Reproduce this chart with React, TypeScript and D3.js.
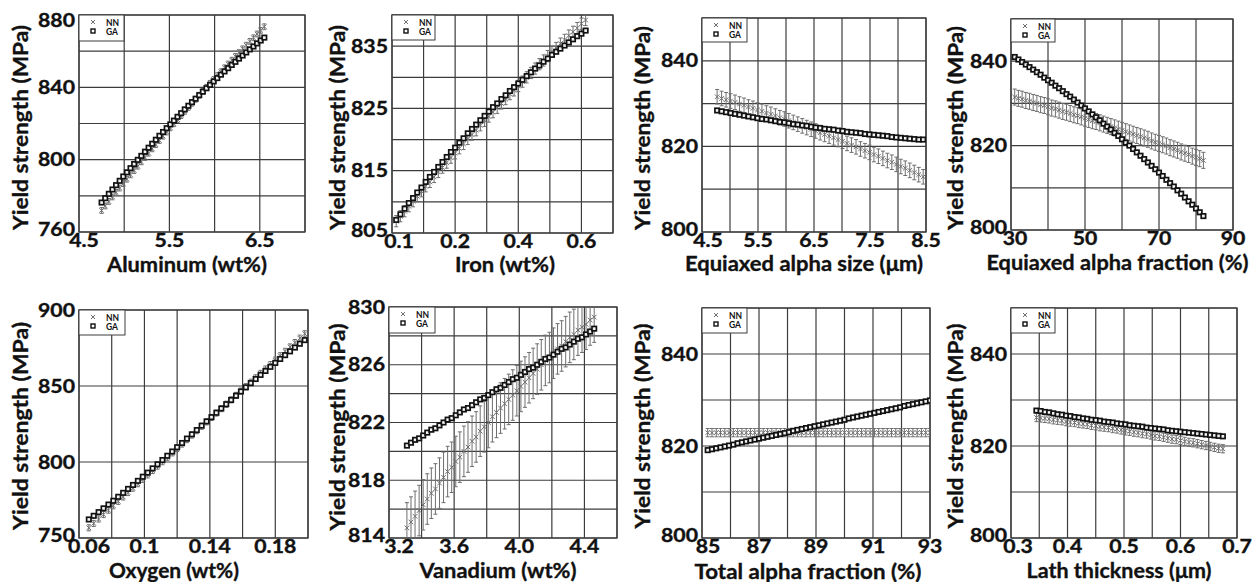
import React from "react";
import * as d3 from "d3";

// ---------- Data ----------
// 1 Aluminum
const alX = [4.75,4.79,4.83,4.87,4.91,4.95,4.99,5.03,5.07,5.11,5.15,5.19,5.23,5.27,5.31,5.35,5.39,5.43,5.47,5.51,5.55,5.59,5.63,5.67,5.71,5.75,5.79,5.83,5.87,5.91,5.95,5.99,6.03,6.07,6.11,6.15,6.19,6.23,6.27,6.31,6.35,6.39,6.43,6.47,6.51,6.55];
const alNN = [771.9,774.4,776.9,779.4,781.9,784.3,786.8,789.2,791.6,794.0,796.4,798.8,801.2,803.6,806.0,808.3,810.6,813.0,815.3,817.6,819.9,822.1,824.4,826.7,828.9,831.2,833.4,835.6,837.8,840.0,842.2,844.3,846.5,848.6,850.8,852.9,855.0,857.1,859.2,861.3,863.3,865.4,867.4,869.5,871.5,873.5];
const alGA = [776.3,778.7,781.1,783.5,785.9,788.3,790.7,793.0,795.3,797.6,799.9,802.1,804.4,806.6,808.8,811.0,813.2,815.3,817.4,819.5,821.6,823.7,825.7,827.8,829.8,831.8,833.7,835.7,837.6,839.5,841.4,843.3,845.1,847.0,848.8,850.6,852.4,854.1,855.9,857.6,859.3,861.0,862.6,864.3,865.9,867.5];

// 2 Iron
const feX = [0.11,0.12,0.13,0.14,0.15,0.16,0.17,0.18,0.19,0.20,0.21,0.22,0.23,0.24,0.25,0.26,0.27,0.28,0.29,0.30,0.31,0.32,0.33,0.34,0.35,0.36,0.37,0.38,0.39,0.40,0.41,0.42,0.43,0.44,0.45,0.46,0.47,0.48,0.49,0.50,0.51,0.52,0.53,0.54,0.55,0.56];
const feNN = [806.9,807.7,808.5,809.3,810.1,810.9,811.7,812.5,813.2,814.0,814.8,815.5,816.3,817.1,817.8,818.6,819.3,820.1,820.8,821.5,822.3,823.0,823.7,824.4,825.1,825.8,826.5,827.3,827.9,828.6,829.3,830.0,830.7,831.4,832.1,832.7,833.4,834.1,834.7,835.4,836.0,836.7,837.3,837.9,838.6,839.2];
const feGA = [807.1,808.0,808.9,809.8,810.6,811.5,812.3,813.2,814.0,814.8,815.6,816.4,817.2,818.0,818.7,819.5,820.2,821.0,821.7,822.4,823.1,823.8,824.5,825.2,825.8,826.5,827.1,827.8,828.4,829.0,829.6,830.2,830.8,831.4,831.9,832.5,833.0,833.6,834.1,834.6,835.1,835.6,836.1,836.6,837.0,837.5];

// 3 Equiaxed alpha size
const esX = [4.77,4.85,4.93,5.01,5.09,5.17,5.25,5.33,5.41,5.49,5.57,5.65,5.73,5.81,5.89,5.97,6.05,6.13,6.21,6.29,6.37,6.45,6.53,6.61,6.69,6.77,6.85,6.93,7.01,7.09,7.17,7.25,7.33,7.41,7.49,7.57,7.65,7.73,7.81,7.89,7.97,8.05,8.13,8.21,8.29,8.37,8.45];
const esNN = [831.6,831.2,830.9,830.6,830.3,829.9,829.6,829.2,828.9,828.5,828.2,827.8,827.5,827.1,826.7,826.4,826.0,825.6,825.2,824.8,824.4,824.0,823.6,823.2,822.8,822.4,822.0,821.6,821.2,820.7,820.3,819.9,819.4,819.0,818.6,818.1,817.7,817.2,816.7,816.3,815.8,815.3,814.9,814.4,813.9,813.4,812.9];
const esGA = [828.4,828.2,828.0,827.8,827.6,827.4,827.2,827.0,826.8,826.6,826.4,826.3,826.1,825.9,825.7,825.6,825.4,825.2,825.1,824.9,824.8,824.6,824.4,824.3,824.1,824.0,823.9,823.7,823.6,823.4,823.3,823.2,823.1,822.9,822.8,822.7,822.6,822.5,822.4,822.2,822.1,822.0,821.9,821.8,821.7,821.6,821.6];

// 4 Equiaxed alpha fraction
const efX = [31,32,33,34,35,36,37,38,39,40,41,42,43,44,45,46,47,48,49,50,51,52,53,54,55,56,57,58,59,60,61,62,63,64,65,66,67,68,69,70,71,72,73,74,75,76,77,78,79,80,81,82];
const efNN = [831.5,831.2,831.0,830.7,830.5,830.2,830.0,829.7,829.5,829.2,828.9,828.7,828.4,828.1,827.9,827.6,827.3,827.1,826.8,826.5,826.2,825.9,825.7,825.4,825.1,824.8,824.5,824.2,823.9,823.6,823.3,823.0,822.7,822.4,822.1,821.8,821.5,821.1,820.8,820.5,820.2,819.9,819.5,819.2,818.9,818.5,818.2,817.9,817.5,817.2,816.9,816.5];
const efGA = [841.0,840.4,839.8,839.2,838.6,838.0,837.4,836.8,836.1,835.5,834.9,834.2,833.6,832.9,832.2,831.6,830.9,830.2,829.5,828.8,828.1,827.4,826.7,826.0,825.2,824.5,823.8,823.0,822.3,821.5,820.7,820.0,819.2,818.4,817.6,816.8,816.0,815.2,814.4,813.6,812.8,811.9,811.1,810.3,809.4,808.6,807.7,806.8,806.0,805.1,804.2,803.3];

// 5 Oxygen
const oxX = [0.066,0.069,0.072,0.075,0.078,0.081,0.084,0.087,0.090,0.093,0.096,0.099,0.102,0.105,0.108,0.111,0.114,0.117,0.120,0.123,0.126,0.129,0.132,0.135,0.138,0.141,0.144,0.147,0.150,0.153,0.156,0.159,0.162,0.165,0.168,0.171,0.174,0.177,0.180,0.183,0.186,0.189,0.192,0.195,0.198];
const oxNN = [756.7,759.6,762.5,765.4,768.3,771.2,774.1,777.0,779.9,782.8,785.7,788.6,791.5,794.4,797.3,800.2,803.1,806.0,808.9,811.8,814.7,817.7,820.6,823.5,826.4,829.3,832.2,835.1,838.0,840.9,843.8,846.7,849.6,852.5,855.4,858.3,861.2,864.1,867.0,869.9,872.8,875.7,878.6,881.5,884.4];
const oxGA = [762.2,764.6,767.0,769.5,772.0,774.5,777.1,779.7,782.3,784.9,787.6,790.3,793.0,795.8,798.5,801.3,804.1,806.9,809.7,812.5,815.4,818.2,821.0,823.9,826.7,829.5,832.4,835.2,838.0,840.8,843.6,846.4,849.1,851.9,854.6,857.3,859.9,862.6,865.2,867.8,870.3,872.8,875.3,877.8,880.2];

// 6 Vanadium
const vaX = [3.310,3.335,3.360,3.385,3.410,3.435,3.460,3.485,3.510,3.535,3.560,3.585,3.610,3.635,3.660,3.685,3.710,3.735,3.760,3.785,3.810,3.835,3.860,3.885,3.910,3.935,3.960,3.985,4.010,4.035,4.060,4.085,4.110,4.135,4.160,4.185,4.210,4.235,4.260,4.285,4.310,4.335,4.360,4.385,4.410,4.435,4.460];
const vaNN = [814.7,815.1,815.5,815.9,816.3,816.7,817.1,817.4,817.8,818.2,818.6,818.9,819.3,819.6,820.0,820.3,820.7,821.0,821.4,821.7,822.0,822.4,822.7,823.0,823.3,823.6,823.9,824.2,824.5,824.8,825.1,825.4,825.7,826.0,826.3,826.5,826.8,827.1,827.3,827.6,827.9,828.1,828.4,828.6,828.8,829.1,829.3];
const vaGA = [820.4,820.6,820.8,820.9,821.1,821.3,821.5,821.6,821.8,822.0,822.2,822.3,822.5,822.7,822.9,823.0,823.2,823.4,823.6,823.7,823.9,824.1,824.3,824.4,824.6,824.8,825.0,825.1,825.3,825.5,825.7,825.8,826.0,826.2,826.4,826.5,826.7,826.9,827.1,827.2,827.4,827.6,827.8,827.9,828.1,828.3,828.5];

// 7 Total alpha fraction
const taX = [85.20,85.35,85.50,85.65,85.80,85.95,86.10,86.25,86.40,86.55,86.70,86.85,87.00,87.15,87.30,87.45,87.60,87.75,87.90,88.05,88.20,88.35,88.50,88.65,88.80,88.95,89.10,89.25,89.40,89.55,89.70,89.85,90.00,90.15,90.30,90.45,90.60,90.75,90.90,91.05,91.20,91.35,91.50,91.65,91.80,91.95,92.10,92.25,92.40,92.55,92.70,92.85,93.00];
const taNN = [822.9,822.9,822.9,822.9,822.9,822.9,822.9,822.9,822.9,822.9,822.9,822.9,822.9,822.9,822.9,822.9,822.9,822.9,822.9,822.9,822.9,822.9,822.9,822.9,822.9,822.9,822.9,822.9,822.9,822.9,822.9,822.9,822.9,822.9,822.9,822.9,822.9,822.9,822.9,822.9,822.9,822.9,822.9,822.9,822.9,822.9,822.9,822.9,822.9,822.9,822.9,822.9,822.9];
const taGA = [819.1,819.3,819.5,819.7,819.9,820.1,820.3,820.6,820.8,821.0,821.2,821.4,821.6,821.8,822.0,822.2,822.4,822.6,822.8,823.0,823.3,823.5,823.7,823.9,824.1,824.3,824.5,824.7,824.9,825.1,825.3,825.5,825.7,826.0,826.2,826.4,826.6,826.8,827.0,827.2,827.4,827.6,827.8,828.0,828.2,828.4,828.7,828.9,829.1,829.3,829.5,829.7,829.9];

// 8 Lath thickness
const ltX = [0.345,0.3525,0.36,0.3675,0.375,0.3825,0.39,0.3975,0.405,0.4125,0.42,0.4275,0.435,0.4425,0.45,0.4575,0.465,0.4725,0.48,0.4875,0.495,0.5025,0.51,0.5175,0.525,0.5325,0.54,0.5475,0.555,0.5625,0.57,0.5775,0.585,0.5925,0.6,0.6075,0.615,0.6225,0.63,0.6375,0.645,0.6525,0.66,0.6675,0.675];
const ltNN = [826.2,826.1,826.0,825.9,825.7,825.6,825.5,825.3,825.2,825.1,824.9,824.8,824.7,824.5,824.4,824.2,824.1,824.0,823.8,823.7,823.5,823.3,823.2,823.0,822.9,822.7,822.6,822.4,822.2,822.1,821.9,821.7,821.5,821.4,821.2,821.0,820.8,820.7,820.5,820.3,820.1,819.9,819.7,819.5,819.4];
const ltGA = [827.7,827.6,827.4,827.3,827.1,826.9,826.8,826.6,826.5,826.3,826.2,826.0,825.9,825.7,825.6,825.5,825.3,825.2,825.1,824.9,824.8,824.7,824.5,824.4,824.3,824.2,824.0,823.9,823.8,823.7,823.6,823.4,823.3,823.2,823.1,823.0,822.9,822.8,822.7,822.6,822.5,822.4,822.3,822.2,822.1];

// NN error (+/-) per panel
const nnErr = [1.6, 0.9, 1.7, 1.9, 2.0, 1.75, 0.9, 0.9];

// Axis titles and tick labels
const xTitles = ["Aluminum (wt%)", "Iron (wt%)", "Equiaxed alpha size (\u03bcm)", "Equiaxed alpha fraction (%)", "Oxygen (wt%)", "Vanadium (wt%)", "Total alpha fraction (%)", "Lath thickness (\u03bcm)"];
const yTitle = "Yield strength (MPa)";
const xDomains = [[4.5, 7.0], [0.1, 0.625], [4.5, 8.5], [30, 90], [0.06, 0.2], [3.2, 4.6], [85, 93], [0.3, 0.7]];
const xGridSteps = [5, 7, 8, 6, 7, 7, 8, 8];
const xTickLabels = [["4.5", "5.5", "6.5"], ["0.1", "0.2", "0.4", "0.6"], ["4.5", "5.5", "6.5", "7.5", "8.5"], ["30", "50", "70", "90"], ["0.06", "0.1", "0.14", "0.18"], ["3.2", "3.6", "4.0", "4.4"], ["85", "87", "89", "91", "93"], ["0.3", "0.4", "0.5", "0.6", "0.7"]];
const yDomains = [[760, 880], [805, 840], [800, 850], [800, 850], [750, 900], [814, 830], [800, 850], [800, 850]];
const yGridSteps = [6, 7, 5, 5, 3, 8, 5, 5];
const yTickLabels = [["760", "800", "840", "880"], ["805", "815", "825", "835"], ["800", "820", "840"], ["800", "820", "840"], ["750", "800", "850", "900"], ["814", "818", "822", "826", "830"], ["800", "820", "840"], ["800", "820", "840"]];
const yLabelEvery = [2, 2, 2, 2, 1, 2, 2, 2];
const legendNames = ["NN", "GA"];

const seriesX = [alX, feX, esX, efX, oxX, vaX, taX, ltX];
const seriesNN = [alNN, feNN, esNN, efNN, oxNN, vaNN, taNN, ltNN];
const seriesGA = [alGA, feGA, esGA, efGA, oxGA, vaGA, taGA, ltGA];

// ---------- Layout ----------
const layout = [
  { l: 79, t: 15, r: 305, b: 232, xtX: 187, xtW: 160, xtY: 272, ytX: 28, ytY: 127.5, ytW: 205, dx0: 5, lw: 45, lh: 26 },
  { l: 392, t: 15, r: 613, b: 233, xtX: 505, xtW: 100, xtY: 272, ytX: 345, ytY: 127.5, ytW: 205, dx0: 7, lw: 43, lh: 25 },
  { l: 702, t: 18, r: 926, b: 232, xtX: 804, xtW: 238, xtY: 271, ytX: 650, ytY: 128, ytW: 204, dx0: 6, lw: 45, lh: 24 },
  { l: 1011, t: 19, r: 1233, b: 230, xtX: 1117.5, xtW: 262, xtY: 270, ytX: 963, ytY: 128, ytW: 204, dx0: 4, lw: 44, lh: 23 },
  { l: 79, t: 310, r: 308, b: 538, xtX: 174, xtW: 130, xtY: 578, ytX: 28, ytY: 426, ytW: 208, dx0: 10, lw: 46, lh: 25 },
  { l: 389, t: 307, r: 617, b: 538, xtX: 498, xtW: 157, xtY: 578, ytX: 345, ytY: 427, ytW: 207, dx0: 10, lw: 46, lh: 26 },
  { l: 702, t: 308, r: 930, b: 538, xtX: 808, xtW: 227, xtY: 579, ytX: 650, ytY: 426, ytW: 205, dx0: 6, lw: 45, lh: 25 },
  { l: 1011, t: 308, r: 1237, b: 538, xtX: 1119, xtW: 185, xtY: 578, ytX: 963, ytY: 426, ytW: 205, dx0: 7, lw: 44, lh: 25 },
];

const FONT = "Lato, 'Open Sans', 'Liberation Sans', sans-serif";
const GRID = "#3c3c3c";
const NN_COL = "#6e6e6e";
const INK = "#111";
const TICK_FS = 18;
const TICK_SX = 1.18;

function Panel({ i }: { i: number }) {
  const L = layout[i];
  const xd = xDomains[i];
  const yd = yDomains[i];
  const x = d3.scaleLinear().domain(xd).range([L.l, L.r]);
  const y = d3.scaleLinear().domain(yd).range([L.b, L.t]);
  const xs = xGridSteps[i];
  const ys = yGridSteps[i];
  const xGrid = d3.range(xs + 1).map((k) => xd[0] + (k * (xd[1] - xd[0])) / xs);
  const yGrid = d3.range(ys + 1).map((k) => yd[0] + (k * (yd[1] - yd[0])) / ys);
  const X = seriesX[i];
  const NN = seriesNN[i];
  const GA = seriesGA[i];
  const e = nnErr[i];
  const clipId = `clip${i}`;
  const textBold = { fontFamily: FONT, fontWeight: 700, fill: INK, stroke: INK, strokeWidth: 0.35 } as const;
  return (
    <g>
      <defs>
        <clipPath id={clipId}>
          <rect x={L.l} y={L.t} width={L.r - L.l} height={L.b - L.t} />
        </clipPath>
      </defs>
      {xGrid.map((v, k) => (
        <line key={"gx" + k} x1={x(v)} x2={x(v)} y1={L.t} y2={L.b} stroke={GRID} strokeWidth={1.2} />
      ))}
      {yGrid.map((v, k) => (
        <line key={"gy" + k} x1={L.l} x2={L.r} y1={y(v)} y2={y(v)} stroke={GRID} strokeWidth={1.2} />
      ))}
      <rect x={L.l} y={L.t} width={L.r - L.l} height={L.b - L.t} fill="none" stroke={GRID} strokeWidth={1.3} />
      {/* legend */}
      <rect x={L.l} y={L.t} width={L.lw} height={L.lh} fill="#fff" stroke={GRID} strokeWidth={1} />
      <path
        d={`M${L.l + 12},${L.t + 5}l4,4M${L.l + 12},${L.t + 9}l4,-4`}
        stroke={NN_COL}
        strokeWidth={1}
        fill="none"
      />
      <rect x={L.l + 12} y={L.t + 14} width={4} height={4} fill="#fff" stroke={INK} strokeWidth={1.4} />
      <text x={L.l + 27} y={L.t + 10.5} fontFamily={FONT} fontWeight={700} fontSize={8.5} fill={INK}>
        {legendNames[0]}
      </text>
      <text x={L.l + 27} y={L.t + 19.5} fontFamily={FONT} fontWeight={700} fontSize={8.5} fill={INK}>
        {legendNames[1]}
      </text>
      {/* data */}
      <g clipPath={`url(#${clipId})`}>
        {X.map((xv, k) => {
          const cx = x(xv);
          const top = y(NN[k] + e);
          const bot = y(NN[k] - e);
          return (
            <g key={"nn" + k} stroke={NN_COL} strokeWidth={1} fill="none">
              <line x1={cx} x2={cx} y1={top} y2={bot} />
              <line x1={cx - 2} x2={cx + 2} y1={top} y2={top} />
              <line x1={cx - 2} x2={cx + 2} y1={bot} y2={bot} />
              <path d={`M${cx - 2.3},${y(NN[k]) - 2.3}l4.6,4.6M${cx - 2.3},${y(NN[k]) + 2.3}l4.6,-4.6`} />
            </g>
          );
        })}
        {X.map((xv, k) => (
          <rect
            key={"ga" + k}
            x={x(xv) - 2.2}
            y={y(GA[k]) - 2.2}
            width={4.4}
            height={4.4}
            fill="#f4f4f4"
            stroke={INK}
            strokeWidth={1.7}
          />
        ))}
      </g>
      {/* x tick labels */}
      {xTickLabels[i].map((s, k) => {
        const gx = x(xGrid[k * 2]) + (k === 0 ? L.dx0 : 0);
        return (
          <text
            key={"xl" + k}
            transform={`translate(${gx},${L.b + 15}) scale(${TICK_SX},1)`}
            textAnchor="middle"
            fontSize={TICK_FS}
            {...textBold}
          >
            {s}
          </text>
        );
      })}
      {/* y tick labels */}
      {yTickLabels[i].map((s, k) => {
        const gy = Math.max(y(yGrid[k * yLabelEvery[i]]), 20) - (k === 0 ? 2.5 : 0);
        return (
          <text
            key={"yl" + k}
            transform={`translate(${L.l - 4},${gy + 6.5}) scale(${TICK_SX},1)`}
            textAnchor="end"
            fontSize={TICK_FS}
            {...textBold}
          >
            {s}
          </text>
        );
      })}
      {/* axis titles */}
      <text
        x={L.xtX}
        y={L.xtY}
        textAnchor="middle"
        fontSize={21}
        textLength={L.xtW}
        lengthAdjust="spacingAndGlyphs"
        {...textBold}
      >
        {xTitles[i]}
      </text>
      <text
        transform={`translate(${L.ytX},${L.ytY}) rotate(-90)`}
        textAnchor="middle"
        fontSize={21}
        textLength={L.ytW}
        lengthAdjust="spacingAndGlyphs"
        {...textBold}
      >
        {yTitle}
      </text>
    </g>
  );
}

export default function App() {
  return (
    <svg
      width={1255}
      height={582}
      viewBox="0 0 1255 582"
      style={{ position: "absolute", left: 0, top: 0, background: "#fff", display: "block" }}
    >
      <rect x={0} y={0} width={1255} height={582} fill="#fff" />
      {d3.range(8).map((i) => (
        <Panel key={i} i={i} />
      ))}
    </svg>
  );
}
